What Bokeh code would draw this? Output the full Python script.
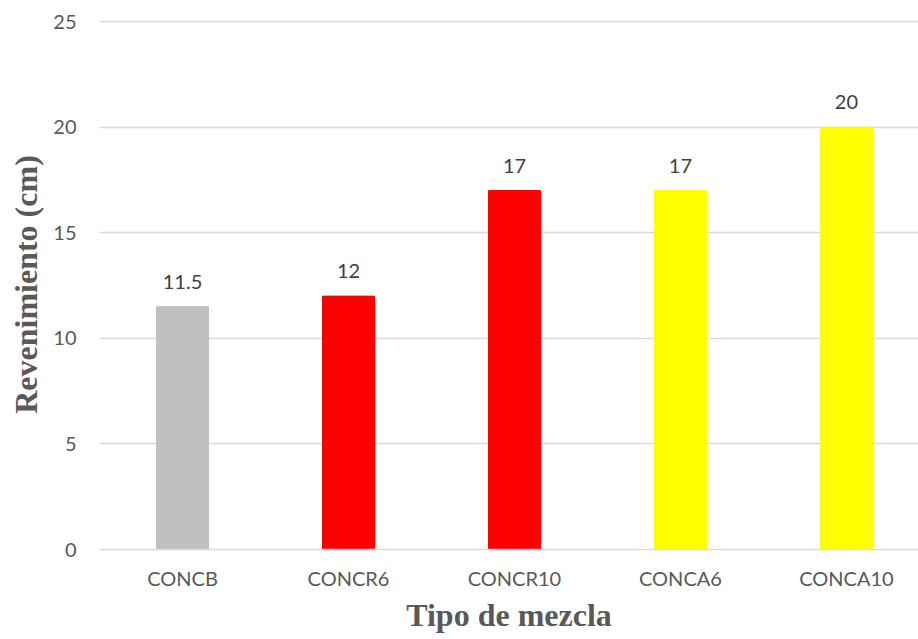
from bokeh.plotting import figure
from bokeh.models import Range1d, FixedTicker, ColumnDataSource, LabelSet
from bokeh.core.properties import value
from bokeh.embed import file_html
from bokeh.resources import INLINE

# Slump per mix type
categories = ["CONCB", "CONCR6", "CONCR10", "CONCA6", "CONCA10"]
slump_cm = [11.5, 12, 17, 17, 20]
bar_colors = ["#BFBFBF", "#FF0000", "#FF0000", "#FFFF00", "#FFFF00"]
y_ticks = [0, 5, 10, 15, 20, 25]

positions = [i + 0.5 for i in range(len(categories))]
labels = [("%g" % v) for v in slump_cm]

source = ColumnDataSource(dict(x=positions, top=slump_cm, color=bar_colors, label=labels))

p = figure(
    width=918, height=639,
    output_backend="svg", toolbar_location=None,
    x_range=Range1d(0, 4.934), y_range=Range1d(0, 25.1),
    min_border_left=99, min_border_right=0, min_border_top=19, min_border_bottom=90,
)
p.outline_line_color = None
p.background_fill_color = "white"

p.vbar(x="x", top="top", width=0.313, color="color", source=source)

p.add_layout(LabelSet(x="x", y="top", text="label", source=source,
                      text_align="center", text_baseline="alphabetic", y_offset=18,
                      text_font=value("Lato"), text_font_size=value("20px"),
                      text_color=value("#404040")))

# grid
p.xgrid.grid_line_color = None
p.ygrid.grid_line_color = "#D9D9D9"
p.ygrid.grid_line_width = 1.5

# y axis
p.yaxis.ticker = FixedTicker(ticks=y_ticks)
p.yaxis.axis_line_color = None
p.yaxis.major_tick_line_color = None
p.yaxis.minor_tick_line_color = None
p.yaxis.major_label_text_font = "Lato"
p.yaxis.major_label_text_font_size = "20px"
p.yaxis.major_label_text_color = "#595959"
p.yaxis.major_label_standoff = 17
p.yaxis.axis_label = "Revenimiento (cm)"
p.yaxis.axis_label_text_font = "Liberation Serif"
p.yaxis.axis_label_text_font_style = "bold"
p.yaxis.axis_label_text_font_size = "32px"
p.yaxis.axis_label_text_color = "#595959"
p.yaxis.axis_label_standoff = 6

# x axis
p.xaxis.ticker = FixedTicker(ticks=positions)
p.xaxis.major_label_overrides = {pos: c for pos, c in zip(positions, categories)}
p.xaxis.axis_line_color = "#D9D9D9"
p.xaxis.axis_line_width = 1.5
p.xaxis.major_tick_line_color = None
p.xaxis.minor_tick_line_color = None
p.xaxis.major_label_text_font = "Lato"
p.xaxis.major_label_text_font_size = "20px"
p.xaxis.major_label_text_color = "#595959"
p.xaxis.major_label_standoff = 10
p.xaxis.axis_label = "Tipo de mezcla"
p.xaxis.axis_label_text_font = "Liberation Serif"
p.xaxis.axis_label_text_font_style = "bold"
p.xaxis.axis_label_text_font_size = "32px"
p.xaxis.axis_label_text_color = "#595959"
p.xaxis.axis_label_standoff = 4

open("out.html", "w").write(file_html(p, INLINE))
